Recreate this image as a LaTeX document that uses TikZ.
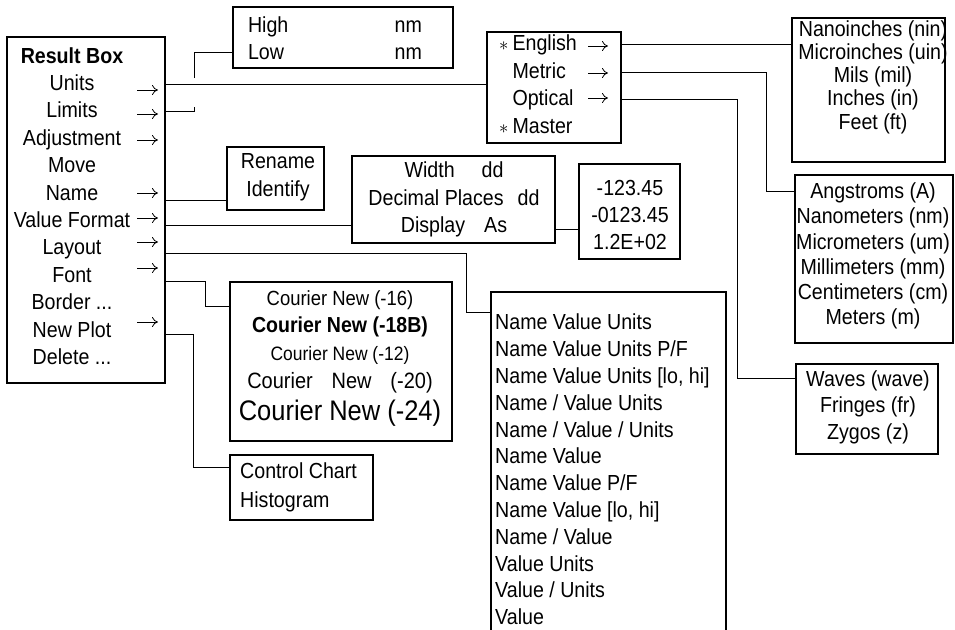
\documentclass[tikz,border=0pt]{standalone}
\usepackage{fontspec}
\setmainfont{Liberation Sans}[FakeStretch=0.9]
\usetikzlibrary{arrows.meta}

\tikzset{
  box/.style={draw, line width=2.4pt, inner sep=0pt},
  txt/.style={inner sep=0pt, font=\fontsize{21.8}{27.5}\selectfont},
  wire/.style={line width=0.9pt},
  goto/.style={line width=0.8pt, -{To[length=6pt, width=10pt]}},
}

\begin{document}
\begin{tikzpicture}[x=1pt, y=-1pt]
  \useasboundingbox (0,0) rectangle (955,629);
  \clip (0,0) rectangle (955,629);

  % boxes
  \node[box, minimum width=158pt, minimum height=346pt] (result) at (86,210) {};
  \node[box, minimum width=220pt, minimum height=61pt] (limits) at (343,37.5) {};
  \node[box, minimum width=134pt, minimum height=111pt] (units) at (554,87.5) {};
  \node[box, minimum width=153pt, minimum height=144pt] (english) at (868.5,90) {};
  \node[box, minimum width=158pt, minimum height=168pt] (metric) at (874,259) {};
  \node[box, minimum width=142pt, minimum height=90pt] (optical) at (867,409) {};
  \node[box, minimum width=97pt, minimum height=63pt] (rename) at (275.5,178.5) {};
  \node[box, minimum width=203pt, minimum height=87pt] (format) at (453.5,199.5) {};
  \node[box, minimum width=101pt, minimum height=95pt] (numbers) at (629.5,211.5) {};
  \node[box, minimum width=235pt, minimum height=388pt] (layout) at (608.5,486) {};
  \node[box, minimum width=222pt, minimum height=159pt] (fonts) at (341,361.5) {};
  \node[box, minimum width=143pt, minimum height=65pt] (plots) at (301.5,487.5) {};

  % texts
  \node[txt, align=center, font=\fontsize{21.8}{27.4}\selectfont] (resultT) at (72,206)
    {\textbf{Result Box}\\Units\\Limits\\Adjustment\\Move\\Name\\Value Format\\Layout\\Font\\Border ...\\New Plot\\Delete ...};
  \foreach \y in {90,114,140,193,218,242,268,322}
    \draw[goto] (137,\y) -- (158,\y);

  \node[txt, align=left, font=\fontsize{21.8}{27}\selectfont] (limitsT) at (335,38.5)
    {\makebox[174pt]{High\hfill nm}\\\makebox[174pt]{Low\hfill nm}};
  \node[txt, anchor=west, font=\fontsize{21.8}{27.7}\selectfont] (unitsT) at (499,86.5)
    {\begin{tabular}{@{}c@{\hspace{4pt}}l@{}}
      \scalebox{0.9}{$\ast$} & English\\
       & Metric\\
       & Optical\\
      \scalebox{0.9}{$\ast$} & Master\\
    \end{tabular}};
  \foreach \y in {46,73,98}
    \draw[goto] (588,\y) -- (608,\y);
  \node[txt, align=center, font=\fontsize{21.8}{23.3}\selectfont] (englishT) at (873,77)
    {Nanoinches (nin)\\Microinches (uin)\\Mils (mil)\\Inches (in)\\Feet (ft)};
  \node[txt, align=center, font=\fontsize{21.8}{25.2}\selectfont] (metricT) at (873,256)
    {Angstroms (A)\\Nanometers (nm)\\Micrometers (um)\\Millimeters (mm)\\Centimeters (cm)\\Meters (m)};
  \node[txt, align=center, font=\fontsize{21.8}{26.5}\selectfont] (opticalT) at (868,407)
    {Waves (wave)\\Fringes (fr)\\Zygos (z)};
  \node[txt, align=center, font=\fontsize{21.8}{28}\selectfont] (renameT) at (278,177)
    {Rename\\Identify};
  \node[txt, align=center, font=\fontsize{21.8}{27.5}\selectfont] (formatT) at (454,199.5)
    {Width\hspace{27pt}dd\\Decimal Places\hspace{14pt}dd\\Display\hspace{19pt}As};
  \node[txt, align=center, font=\fontsize{21.8}{27}\selectfont] (numbersT) at (630,215)
    {-123.45\\-0123.45\\1.2E+02};
  \node[txt, anchor=west, align=left, font=\fontsize{21.8}{26.8}\selectfont] (layoutT) at (495,469.5)
    {Name Value Units\\Name Value Units P/F\\Name Value Units [lo, hi]\\Name / Value Units\\
     Name / Value / Units\\Name Value\\Name Value P/F\\Name Value [lo, hi]\\Name / Value\\
     Value Units\\Value / Units\\Value};
  \node[txt, font=\fontsize{20.5}{22}\selectfont] (c16) at (340,300) {Courier New (-16)};
  \node[txt, font=\fontsize{21.7}{22}\bfseries] (c18) at (340,327) {Courier New (-18B)};
  \node[txt, font=\fontsize{19.4}{22}\selectfont] (c12) at (340,355) {Courier New (-12)};
  \node[txt, font=\fontsize{22.2}{24}\selectfont] (c20) at (340,383)
    {Courier\hspace{0.85em}New\hspace{0.85em}(-20)};
  \node[txt, font=\fontsize{28.3}{30}\selectfont] (c24) at (340,413) {Courier New (-24)};
  \node[txt, anchor=west, align=left, font=\fontsize{21.8}{29}\selectfont] (plotsT) at (240,487.5)
    {Control Chart\\Histogram};

  % connectors
  \draw[wire] (result.east |- 0,84) -- (units.west |- 0,84);
  \draw[wire] (result.east |- 0,111) -- (194,111) -- (194,107);
  \draw[wire] (194,78) -- (194,52) -- (limits.west |- 0,52);
  \draw[wire] (result.east |- 0,200) -- (rename.west |- 0,200);
  \draw[wire] (result.east |- 0,225) -- (format.west |- 0,225);
  \draw[wire] (format.east |- 0,229) -- (numbers.west |- 0,229);
  \draw[wire] (result.east |- 0,253) -| (466,312) -- (layout.west |- 0,312);
  \draw[wire] (result.east |- 0,281) -| (205,306) -- (fonts.west |- 0,306);
  \draw[wire] (result.east |- 0,334) -| (193,467) -- (plots.west |- 0,467);
  \draw[wire] (units.east |- 0,44) -- (english.west |- 0,44);
  \draw[wire] (units.east |- 0,72) -| (766,191) -- (metric.west |- 0,191);
  \draw[wire] (units.east |- 0,99) -| (737,378) -- (optical.west |- 0,378);
\end{tikzpicture}
\end{document}
